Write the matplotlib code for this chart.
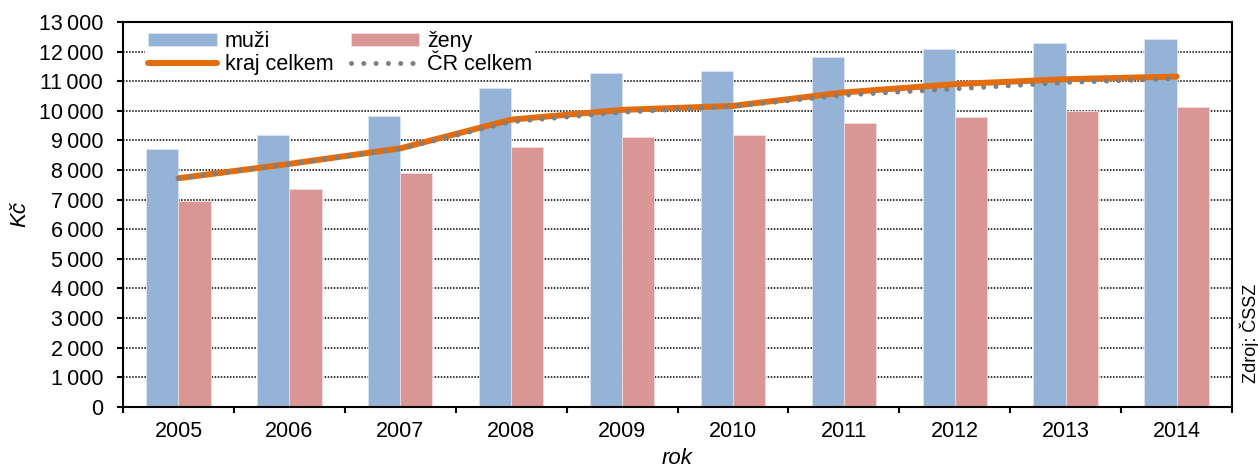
import matplotlib
matplotlib.use("Agg")
import matplotlib.pyplot as plt
import numpy as np
from matplotlib.ticker import FuncFormatter, MultipleLocator

years = ["2005", "2006", "2007", "2008", "2009", "2010", "2011", "2012", "2013", "2014"]
muzi = [8700, 9175, 9840, 10785, 11260, 11342, 11804, 12076, 12278, 12413]
zeny = [6950, 7340, 7890, 8775, 9112, 9180, 9586, 9789, 9992, 10127]
kraj = [7720, 8205, 8730, 9700, 10030, 10165, 10620, 10900, 11067, 11157]
cr = [7715, 8200, 8705, 9630, 9950, 10150, 10530, 10740, 10955, 11090]

plt.rcParams['font.family'] = ['Liberation Sans', 'DejaVu Sans']

W, H = 1258, 468
fig = plt.figure(figsize=(W/100, H/100), dpi=100)
L, R, T, B = 123, 1232, 22, 406.7
ax = fig.add_axes([L/W, 1 - B/H, (R-L)/W, (B-T)/H])

x = np.arange(len(years))
w = 0.29
b1 = ax.bar(x - w/2, muzi, w, color='#95B3D7', edgecolor='#DCE6F2', linewidth=0.6, label='muži', zorder=2)
b2 = ax.bar(x + w/2, zeny, w, color='#D99694', edgecolor='#F2DCDB', linewidth=0.6, label='ženy', zorder=2)
l1, = ax.plot(x, kraj, color='#E46C0A', linewidth=4.3, solid_capstyle='round', label='kraj celkem', zorder=3)
l2, = ax.plot(x, cr, color='#808080', linewidth=3.6, linestyle=(0, (0.01, 2.45)), dash_capstyle='round',
              label='ČR celkem', zorder=4)

ax.set_xlim(-0.5, len(years) - 0.5)
ax.set_ylim(0, 13000)
ax.yaxis.set_major_locator(MultipleLocator(1000))
ax.yaxis.set_major_formatter(FuncFormatter(lambda v, p: f"{int(v):,}".replace(",", "\u2009")))
ax.set_xticks(x)
ax.set_xticklabels(years)
ax.set_xticks(np.arange(-0.5, len(years), 1), minor=True)
ax.tick_params(axis='x', which='major', length=0, pad=10, labelsize=15.5)
ax.tick_params(axis='x', which='minor', length=4.3, width=1.5, direction='out')
ax.tick_params(axis='y', which='major', length=4.3, width=1.5, direction='out', labelsize=15.5, pad=10)

ax.grid(axis='y', color='black', linestyle=(0, (1, 1)), linewidth=1.1, zorder=0)
ax.set_axisbelow(True)
for s in ax.spines.values():
    s.set_linewidth(1.5)
    s.set_color('black')

fig.text(20/W, 1 - 214/H, 'Kč', rotation=90, ha='center', va='center', fontsize=16, style='italic')
fig.text(677/W, 1 - 459/H, 'rok', ha='center', va='center', fontsize=16, style='italic')

leg = ax.legend([b1, l1, b2, l2], ['muži', 'kraj celkem', 'ženy', 'ČR celkem'],
                ncol=2, loc='upper left', bbox_to_anchor=(22/(R-L), 1 - 6/(B-T)), fontsize=15.5,
                frameon=True, facecolor='white', edgecolor='none', framealpha=1,
                handlelength=3.2, handleheight=0.5, handletextpad=0.35, columnspacing=0.8,
                labelspacing=0.1, borderpad=0.15, borderaxespad=0, fancybox=False)
leg.set_zorder(5)

fig.text(1250/W, 1 - 333/H, 'Zdroj: ČSSZ', rotation=90, ha='center', va='center', fontsize=13)

fig.savefig('out.png', dpi=100)
